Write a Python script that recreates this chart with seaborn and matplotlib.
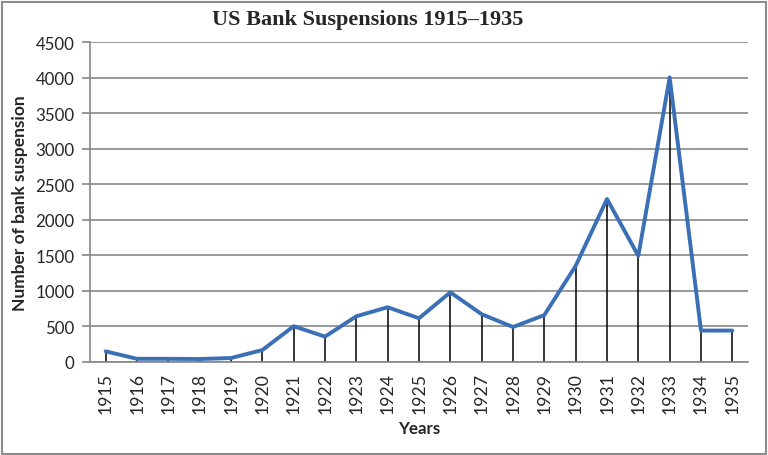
import numpy as np
import pandas as pd
import matplotlib
matplotlib.use("Agg")
import matplotlib.pyplot as plt
from matplotlib.patches import Rectangle
import seaborn as sns

years = [str(y) for y in range(1915, 1936)]
suspensions = [150, 45, 45, 42, 56, 168, 503, 357, 643, 770, 615, 980, 672, 492, 660,
               1352, 2292, 1493, 4002, 442, 442]
y_ticks = [0, 500, 1000, 1500, 2000, 2500, 3000, 3500, 4000, 4500]


def fit_size(text, size, target, along="width"):
    # rescale a text so its extent matches the length seen in the reference
    bb = text.get_window_extent()
    cur = bb.width if along == "width" else bb.height
    return size * target / cur


def main():
    sns.set_style("white")
    plt.rcParams['font.family'] = ['Lato', 'DejaVu Sans']

    df = pd.DataFrame({"year": years, "n": suspensions})
    df["pos"] = np.arange(len(df))

    fig = plt.figure(figsize=(7.68, 4.56), dpi=100)
    ax = fig.add_axes([90 / 768, 1 - 363 / 456, 658 / 768, 320 / 456])

    # drop lines from each point down to the axis
    ax.vlines(df["pos"], 0, df["n"], color="black", linewidth=1.1, zorder=2)
    sns.lineplot(data=df, x="pos", y="n", ax=ax, color="#3b6fb6",
                 linewidth=2.8, zorder=3)

    ax.set_xlim(-0.5, len(df) - 0.5)
    ax.set_ylim(0, 4500)
    ax.set_yticks(y_ticks)
    ax.set_xticks(df["pos"])
    ax.set_xticklabels(df["year"], rotation=90)
    ax.yaxis.grid(True, color="#878787", linewidth=1.2)
    ax.set_axisbelow(True)

    for side in ["top", "right"]:
        ax.spines[side].set_visible(False)
    for side in ["left", "bottom"]:
        ax.spines[side].set_color("#878787")
        ax.spines[side].set_linewidth(1.2)

    ax.tick_params(axis="y", length=6, width=1.2, color="#878787", pad=5,
                   labelsize=12.2, left=True)
    ax.tick_params(axis="x", length=0, pad=7, labelsize=12.7)

    xlab = ax.set_xlabel("Years", fontsize=12, fontweight="bold")
    ax.xaxis.set_label_coords(0.5, -(421 - 363) / 320)
    ylab = ax.set_ylabel("Number of bank suspension", fontsize=11,
                         fontweight="bold")
    ax.yaxis.set_label_coords(-(90 - 28) / 658, 0.5)

    fig.canvas.draw()
    ylab.set_fontsize(fit_size(ylab, 11, 215, "height"))
    xlab.set_fontsize(fit_size(xlab, 12, 42, "width"))

    fig.text(368 / 768, 1 - 20 / 456, "US Bank Suspensions 1915\u20131935",
             ha="center", va="center", fontsize=16, fontweight="bold",
             family="Liberation Serif")

    fig.patches.append(Rectangle((1.5 / 768, 1.5 / 456), 764 / 768, 452 / 456,
                                 transform=fig.transFigure, fill=False,
                                 edgecolor="#8c8c8c", linewidth=1.5))

    fig.savefig("out.png", dpi=100)


if __name__ == "__main__":
    main()
